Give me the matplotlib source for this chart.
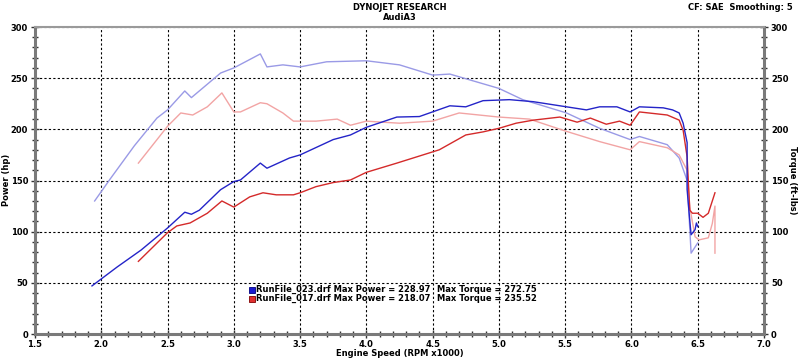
import matplotlib
matplotlib.use("Agg")
import matplotlib.pyplot as plt
from matplotlib.ticker import MultipleLocator, FormatStrFormatter
from matplotlib.patches import Rectangle

# ---- data ----
p023_rpm = [1.93, 2.12, 2.3, 2.5, 2.63, 2.68, 2.74, 2.9, 3.0, 3.05, 3.2, 3.25, 3.42, 3.5, 3.75, 3.88,
            4.0, 4.23, 4.4, 4.63, 4.75, 4.88, 5.08, 5.26, 5.51, 5.66, 5.76, 5.89, 5.99, 6.06, 6.24,
            6.31, 6.36, 6.39, 6.42, 6.42, 6.44, 6.45, 6.48, 6.49, 6.5]
p023_hp = [47, 65.5, 82, 103.6, 119, 117, 121, 141, 149, 150.5, 167, 162, 172, 175, 190, 194.5,
           202, 212, 212.5, 223, 222, 228, 229, 227, 222, 219, 222, 222, 217, 222, 221,
           219, 216, 206, 187, 141, 111, 97, 102, 108.5, 105]

t023_rpm = [1.95, 2.07, 2.25, 2.42, 2.5, 2.63, 2.68, 2.9, 3.0, 3.2, 3.25, 3.37, 3.5, 3.7, 4.0, 4.25,
            4.5, 4.63, 5.0, 5.18, 5.51, 5.76, 5.99, 6.06, 6.27, 6.36, 6.42, 6.45, 6.48, 6.5]
t023_tq = [130, 152, 184, 211, 219, 237.5, 231, 255, 260, 273.7, 261, 263, 261, 266, 267, 263,
           253, 254, 240, 229, 216, 201, 190, 193, 185, 172, 150, 79, 85, 89]

p017_rpm = [2.28, 2.5, 2.57, 2.67, 2.8, 2.91, 3.0, 3.12, 3.22, 3.32, 3.45, 3.5, 3.62, 3.75, 3.88,
            4.0, 4.23, 4.55, 4.75, 4.88, 5.0, 5.13, 5.26, 5.46, 5.59, 5.69, 5.81, 5.91, 5.99, 6.06,
            6.27, 6.36, 6.39, 6.42, 6.44, 6.46, 6.5, 6.54, 6.58, 6.63]
p017_hp = [71, 99, 105.6, 108.5, 118, 130, 124, 134, 138, 136, 136, 138, 144, 148, 150.5,
           158, 167, 180, 194.5, 197.5, 201, 206, 209, 212, 207, 211, 205, 208, 204, 217,
           214, 209, 199, 173, 121, 118, 118, 114, 118, 138]

t017_rpm = [2.28, 2.5, 2.6, 2.69, 2.8, 2.91, 3.0, 3.05, 3.2, 3.25, 3.37, 3.45, 3.62, 3.78, 3.88,
            4.0, 4.12, 4.25, 4.5, 4.7, 5.0, 5.23, 5.51, 5.76, 5.99, 6.06, 6.27, 6.36, 6.42, 6.44,
            6.48, 6.51, 6.58, 6.61, 6.63, 6.63]
t017_tq = [167, 203, 216, 214, 222, 235.6, 217, 217, 226, 225, 216, 208, 208, 210, 204,
           208, 207, 206, 208, 216, 212, 210, 198, 188, 180, 188, 182, 175, 160, 124,
           95, 92, 94, 108, 125, 79]

legend_names = ["RunFile_023.drf", "RunFile_017.drf"]
max_power = [228.97, 218.07]
max_torque = [272.75, 235.52]

W, H = 799, 359
FS = 6
fig = plt.figure(figsize=(W / 100, H / 100), dpi=100)
fig.patch.set_facecolor("white")
ax = fig.add_axes([35 / W, 1 - 334 / H, (764 - 35) / W, (334 - 27) / H])

c_blue_d, c_blue_l = "#2424c8", "#9a9ae6"
c_red_d, c_red_l = "#d42a2a", "#f2a4a4"

ax.plot(t023_rpm, t023_tq, color=c_blue_l, lw=1.0)
ax.plot(t017_rpm, t017_tq, color=c_red_l, lw=1.0)
ax.plot(p017_rpm, p017_hp, color=c_red_d, lw=1.0)
ax.plot(p023_rpm, p023_hp, color=c_blue_d, lw=1.0)

ax.set_xlim(1.5, 7.0)
ax.set_ylim(0, 300)
ax.xaxis.set_major_locator(MultipleLocator(0.5))
ax.xaxis.set_minor_locator(MultipleLocator(0.1))
ax.yaxis.set_major_locator(MultipleLocator(50))
ax.yaxis.set_minor_locator(MultipleLocator(10))
ax.xaxis.set_major_formatter(FormatStrFormatter("%.1f"))
ax.grid(True, which="major", color="black", linestyle=(0, (2, 2)), linewidth=0.8)

for s in ["left", "bottom", "right"]:
    ax.spines[s].set_color("#7a7a7a")
    ax.spines[s].set_linewidth(2.2)
ax.spines["top"].set_color("#9a9a9a")
ax.spines["top"].set_linewidth(1.5)

ax.tick_params(axis="both", which="major", direction="inout", length=6, width=1, labelsize=FS, color="#333333")
ax.tick_params(axis="both", which="minor", direction="inout", length=4, width=1, color="#333333")
ax.tick_params(axis="y", which="both", right=True, labelright=True, pad=2)
ax.tick_params(axis="x", pad=1)
for t in ax.xaxis.get_major_ticks() + ax.yaxis.get_major_ticks():
    t.label1.set_fontweight("bold")
    t.label2.set_fontweight("bold")

def fx(x):
    return x / W

def fy(y):
    return 1 - y / H

fkw = dict(fontsize=FS, fontweight="bold", color="black")
fig.text(fx(400), fy(7), "DYNOJET RESEARCH", ha="center", va="center", **fkw)
fig.text(fx(400), fy(18), "AudiA3", ha="center", va="center", **fkw)
fig.text(fx(793), fy(7), "CF: SAE  Smoothing: 5", ha="right", va="center", **fkw)
fig.text(fx(400), fy(354), "Engine Speed (RPM x1000)", ha="center", va="center", **fkw)
fig.text(fx(7), fy(180), "Power (hp)", ha="center", va="center", rotation=90, **fkw)
fig.text(fx(792), fy(180), "Torque (ft-lbs)", ha="center", va="center", rotation=270, **fkw)

sq_cols = [("#1a1ad0", "#000080"), ("#e03030", "#800000")]
for i in range(2):
    yc = 289.5 + i * 9
    fig.patches.append(Rectangle((fx(249), fy(yc + 3)), 6 / W, 6 / H, transform=fig.transFigure,
                                 facecolor=sq_cols[i][0], edgecolor=sq_cols[i][1], lw=0.6))
    fig.text(fx(256), fy(yc), f"{legend_names[i]} Max Power = {max_power[i]:.2f}",
             ha="left", va="center", **fkw)
    fig.text(fx(437), fy(yc), f"Max Torque = {max_torque[i]:.2f}", ha="left", va="center", **fkw)

fig.savefig("out.png", dpi=100)
